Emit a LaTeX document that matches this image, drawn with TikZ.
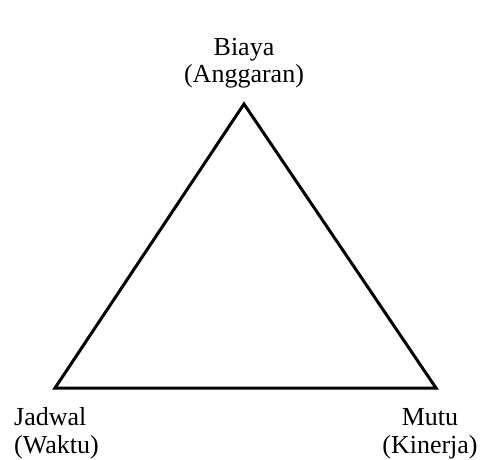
\documentclass[tikz,border=0pt]{standalone}
\usepackage{fontspec}
\setmainfont{Liberation Serif}
\begin{document}
\begin{tikzpicture}[x=1pt,y=-1pt,
  sudut/.style={font=\fontsize{26}{28}\selectfont,inner sep=0pt,anchor=base}]
  \useasboundingbox (0,0) rectangle (480,460);
  % titik sudut segitiga
  \coordinate (atas) at (244,104);
  \coordinate (kiri) at (55,388);
  \coordinate (kanan) at (436,388);
  \draw[line width=3pt] (atas) -- (kanan) -- (kiri) -- cycle;
  % label
  \node[sudut,align=center] (biaya) at (244,83) {Biaya\\(Anggaran)};
  \node[sudut,align=left,anchor=base west] (jadwal) at (14,453) {Jadwal\\(Waktu)};
  \node[sudut,align=center] (mutu) at (430,453) {Mutu\\(Kinerja)};
\end{tikzpicture}
\end{document}
